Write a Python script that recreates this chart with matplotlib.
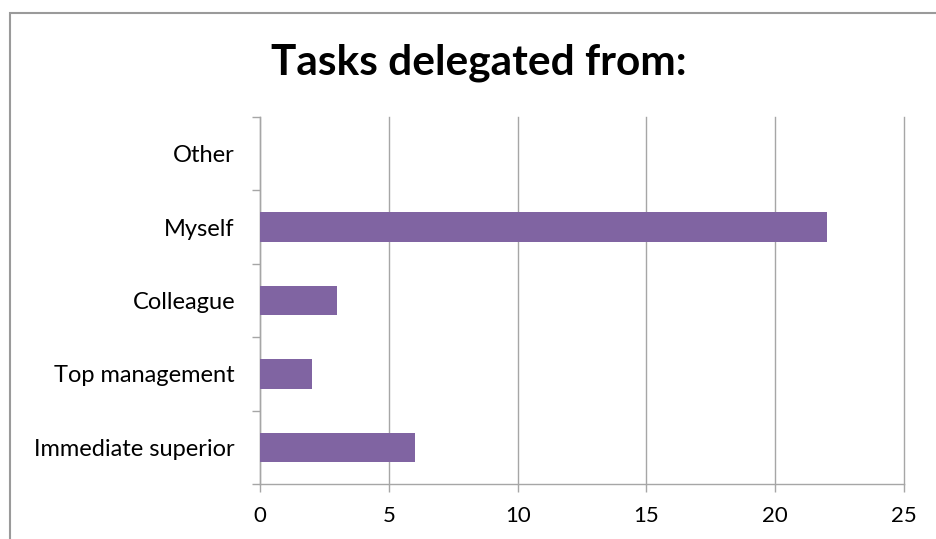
import matplotlib
matplotlib.use("Agg")
import matplotlib.pyplot as plt
from matplotlib.patches import Rectangle
import numpy as np

categories = ["Immediate superior", "Top management", "Colleague", "Myself", "Other"]
values = [6, 2, 3, 22, 0]
xticks = [0, 5, 10, 15, 20, 25]

plt.rcParams['font.family'] = ['Lato', 'DejaVu Sans']

W, H = 937, 539
fig = plt.figure(figsize=(W/100, H/100), dpi=100)
ax = fig.add_axes([260/W, 1-484/H, (904-260)/W, (484-117)/H])

grid_c = '#A6A6A6'
y = np.arange(len(categories))
ax.barh(y, values, height=0.4, color='#8064A2', zorder=3)
ax.set_xlim(0, 25)
ax.set_ylim(-0.5, len(categories)-0.5)
ax.set_xticks(xticks)
ax.set_xticklabels([str(t) for t in xticks], fontsize=16)
ax.set_yticks(np.arange(-0.5, len(categories), 1.0))
ax.set_yticklabels([])
ax.set_yticks(y, minor=True)
ax.set_yticklabels(categories, minor=True, fontsize=17)
ax.tick_params(axis='y', which='minor', length=0, pad=18)
ax.tick_params(axis='y', which='major', length=6, color=grid_c, width=1)
ax.tick_params(axis='x', length=6, color=grid_c, width=1, pad=10)
ax.grid(axis='x', color=grid_c, linewidth=1, zorder=0)
for gl in ax.get_xgridlines():
    gl.set_clip_on(False)
for s in ['top', 'right']:
    ax.spines[s].set_visible(False)
for s in ['left', 'bottom']:
    ax.spines[s].set_color(grid_c)
    ax.spines[s].set_linewidth(1)

fig.text(479/W, 1-63/H, "Tasks delegated from:", ha='center', va='center',
         fontsize=30.5, fontweight='bold')

fig.patches.append(Rectangle((10/W, -0.05), 1.1, 1-13/H+0.05, transform=fig.transFigure,
                             fill=False, edgecolor='#9A9A9A', linewidth=1.5))
fig.savefig("out.png", dpi=100)
